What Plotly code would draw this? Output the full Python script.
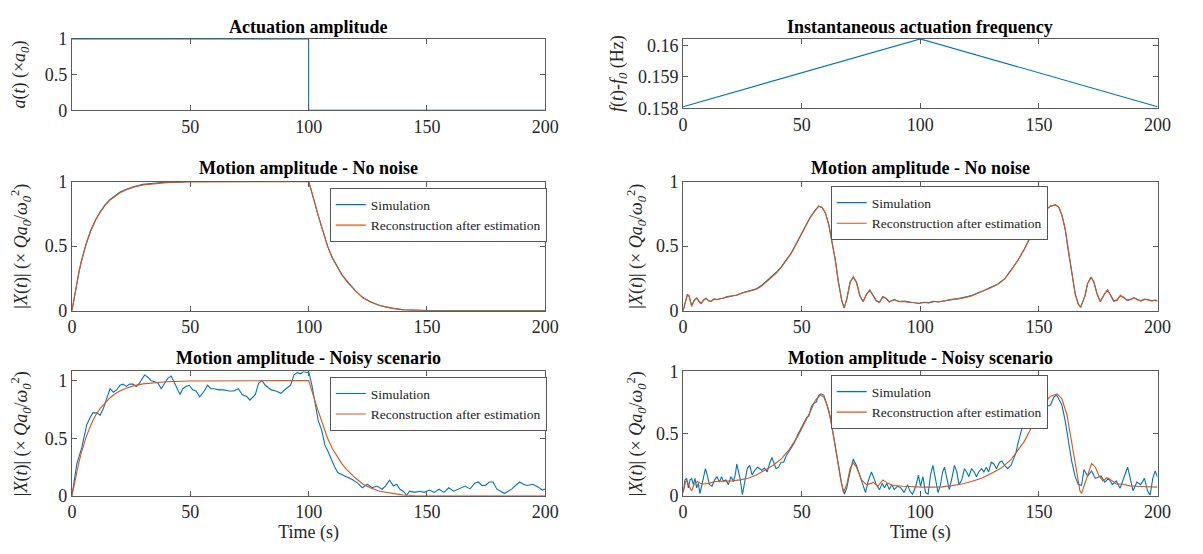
import plotly.graph_objects as go

# ---------------- data ----------------
# top-left: actuation amplitude
t_amp = [0, 100, 100, 200]
a_amp = [1, 1, 0, 0]

# top-right: instantaneous frequency
t_freq = [0, 100, 200]
f_freq = [0.15805, 0.16020, 0.15805]

# middle-left: no noise, constant frequency
t_nl = [0, 1, 2, 3, 4, 5, 6, 8, 10, 12, 14, 16, 18, 20, 23, 26, 30, 35, 40, 50, 60, 70, 80, 90, 100,
        101, 102, 104, 106, 108, 110, 112, 114, 116, 118, 120, 123, 126, 130, 135, 140, 145, 150,
        160, 170, 180, 190, 200]
sim_nl = [0, 0.11, 0.21, 0.305, 0.385, 0.455, 0.52, 0.625, 0.705, 0.768, 0.82, 0.86, 0.89, 0.915,
          0.94, 0.96, 0.978, 0.99, 0.997, 1.0, 1.0, 1.0, 1.0, 1.0, 1.0,
          0.94, 0.87, 0.74, 0.62, 0.5, 0.41, 0.34, 0.28, 0.235, 0.19, 0.15, 0.10, 0.07, 0.04, 0.02,
          0.008, 0.004, 0.002, 0.001, 0.002, 0.001, 0.002, 0.001]
rec_nl = [0, 0.11, 0.21, 0.30, 0.38, 0.45, 0.515, 0.62, 0.70, 0.764, 0.815, 0.855, 0.886, 0.91,
          0.937, 0.957, 0.973, 0.985, 0.992, 0.998, 0.999, 1, 1, 1, 1,
          0.94, 0.87, 0.74, 0.62, 0.5, 0.41, 0.34, 0.28, 0.23, 0.19, 0.15, 0.10, 0.07, 0.04, 0.02,
          0.007, 0.003, 0.001, 0, 0, 0, 0, 0]

# bottom-left: noisy, constant frequency
t_bl_sim = [0, 2.1, 4.2, 6.3, 7.7, 8.8, 10.5, 11.9, 13.3, 14.7, 16.1, 17.5, 18.9, 20.3, 21.6, 23,
            24.4, 25.8, 27.2, 28.6, 30, 30.7, 32.1, 33.5, 34.9, 36.3, 37.7, 39.1, 40.5, 41.9, 43.3,
            44.7, 45.7, 46.8, 48.2, 49.6, 51, 52.4, 54, 55.9, 57.3, 58.7, 60.1, 62.2, 64.2, 66.3,
            68.4, 70.3, 71.9, 74, 75.2, 76.1, 77.5, 78.9, 80.3, 81.7, 82.8, 84.2, 86.2, 88.3, 90.4,
            92.4, 93.8, 95.2, 96.6, 97.9, 99.3, 100, 101.4, 102.8, 104.1, 105.5, 106.9, 108.3,
            109.6, 111, 112.4, 114.5, 116.5, 118.6, 120.7, 122.7, 124.8, 126.9, 128.9, 131, 132.4,
            134.2, 135.8, 137.2, 138.6, 140, 141.3, 142.7, 144.8, 146.8, 148.9, 151, 153, 155.1,
            157.2, 159.2, 161.3, 163.4, 166.1, 168.2, 170.2, 171.7, 173.2, 174.7, 176.3, 177.9,
            179.5, 181.1, 182.7, 184.3, 185.9, 187.5, 189.1, 190.7, 192.3, 194.7, 197.1, 198.7, 200]
v_bl_sim = [0, 0.28, 0.42, 0.62, 0.68, 0.72, 0.72, 0.70, 0.76, 0.85, 0.93, 0.90, 0.92, 0.96, 0.97,
            0.95, 0.97, 0.97, 0.95, 0.98, 1.02, 1.05, 1.03, 1.00, 0.99, 0.98, 0.93, 0.98, 1.02, 1.04,
            0.98, 0.93, 0.88, 0.93, 0.95, 0.96, 0.92, 0.91, 0.86, 0.91, 0.96, 0.93, 0.93, 0.92, 0.92,
            0.91, 0.91, 0.93, 0.88, 0.86, 0.83, 0.85, 0.88, 0.98, 1.00, 0.96, 0.94, 0.92, 0.91, 0.89,
            0.93, 0.96, 1.05, 1.07, 1.06, 1.08, 1.07, 1.08, 0.96, 0.79, 0.65, 0.57, 0.44, 0.38, 0.31,
            0.25, 0.20, 0.18, 0.16, 0.14, 0.11, 0.07, 0.10, 0.07, 0.085, 0.057, 0.085, 0.136, 0.085,
            0.10, 0.057, 0.04, 0.005, 0.04, 0.03, 0.04, 0.03, 0.05, 0.03, 0.057, 0.03, 0.07, 0.04,
            0.06, 0.085, 0.06, 0.11, 0.12, 0.09, 0.09, 0.12, 0.12, 0.06, 0.04, 0.02, 0.04, 0.06,
            0.09, 0.12, 0.10, 0.09, 0.10, 0.075, 0.05, 0.06]
rec_bl = [0, 0.105, 0.205, 0.295, 0.375, 0.445, 0.51, 0.615, 0.70, 0.76, 0.81, 0.85, 0.882, 0.908,
          0.935, 0.955, 0.972, 0.984, 0.991, 0.997, 0.999, 1, 1, 1, 1,
          0.94, 0.87, 0.74, 0.62, 0.5, 0.41, 0.34, 0.28, 0.23, 0.19, 0.15, 0.10, 0.07, 0.04, 0.02,
          0.006, 0.002, 0.0, 0, 0, 0, 0, 0]

# middle-right: no noise, chirped frequency
t_mr = [0, 0.8, 1.8, 2.5, 3.6, 4.6, 5.7, 6.6, 7.6, 8.7, 9.7, 10.8, 11.9, 13, 14.3, 15.7, 17, 18.4,
        20.5, 22.6, 24.7, 26.7, 28.8, 30.9, 33, 35, 37.1, 39.2, 41.3, 43.4, 45.4, 47.5, 49.6, 51.7,
        53.7, 55.8, 57.2, 58.6, 60, 61.4, 62.7, 64.1, 65.5, 66.9, 67.9, 69, 70.4, 71.7, 73.1, 74.5,
        75.9, 77.3, 78.7, 80.1, 81.4, 82.8, 84.2, 85.5, 86.9, 89, 91.1, 93.2, 95.3, 97.4, 99.4,
        101.5, 103.6, 105.7, 107.7, 110.5, 113.3, 116.1, 118.8, 121.6, 124.4, 127.1, 129.9, 132.7,
        135.5, 138.2, 141, 143.8, 146.6, 149.3, 152.1, 154.9, 157, 158.4, 159.7, 161.1, 162.5,
        163.9, 165.3, 166.6, 167.6, 169.4, 170.5, 172, 173.2, 174.5, 175.9, 177.3, 178.9, 180.2,
        181.5, 182.9, 184.4, 185.8, 187.2, 188.8, 190, 191.5, 193, 194.5, 196, 197.5, 199, 200]
rec_mr = [0, 0.064, 0.125, 0.115, 0.035, 0.077, 0.10, 0.075, 0.055, 0.085, 0.095, 0.075, 0.072,
          0.09, 0.085, 0.095, 0.097, 0.11, 0.115, 0.12, 0.136, 0.146, 0.154, 0.167, 0.19, 0.22,
          0.256, 0.29, 0.333, 0.385, 0.44, 0.51, 0.58, 0.654, 0.726, 0.78, 0.81, 0.80, 0.756,
          0.667, 0.55, 0.40, 0.22, 0.077, 0.02, 0.09, 0.22, 0.26, 0.22, 0.115, 0.07, 0.128, 0.158,
          0.12, 0.077, 0.064, 0.11, 0.095, 0.07, 0.085, 0.07, 0.072, 0.064, 0.064, 0.056, 0.064,
          0.06, 0.07, 0.07, 0.077, 0.085, 0.09, 0.10, 0.115, 0.136, 0.154, 0.18, 0.205, 0.244,
          0.31, 0.385, 0.474, 0.577, 0.68, 0.77, 0.81, 0.82, 0.80, 0.74, 0.63, 0.45, 0.27, 0.13,
          0.05, 0.026, 0.115, 0.21, 0.26, 0.22, 0.13, 0.07, 0.12, 0.16, 0.12, 0.075, 0.08, 0.12,
          0.10, 0.08, 0.09, 0.10, 0.085, 0.075, 0.09, 0.085, 0.075, 0.08, 0.075]
sim_mr = [0, 0.066, 0.127, 0.113, 0.037, 0.079, 0.098, 0.077, 0.057, 0.083, 0.097, 0.077, 0.074,
          0.092, 0.087, 0.093, 0.099, 0.108, 0.117, 0.122, 0.138, 0.148, 0.158, 0.171, 0.195, 0.226,
          0.262, 0.296, 0.338, 0.388, 0.442, 0.512, 0.582, 0.655, 0.727, 0.781, 0.81, 0.80, 0.756,
          0.667, 0.55, 0.40, 0.22, 0.077, 0.022, 0.09, 0.22, 0.262, 0.22, 0.117, 0.072, 0.126,
          0.16, 0.118, 0.079, 0.066, 0.108, 0.097, 0.068, 0.087, 0.072, 0.074, 0.066, 0.062, 0.058,
          0.066, 0.063, 0.073, 0.068, 0.08, 0.088, 0.094, 0.104, 0.118, 0.14, 0.158, 0.183, 0.208,
          0.246, 0.312, 0.387, 0.476, 0.579, 0.681, 0.77, 0.81, 0.82, 0.80, 0.74, 0.63, 0.45, 0.27,
          0.13, 0.052, 0.028, 0.113, 0.21, 0.262, 0.222, 0.132, 0.072, 0.118, 0.162, 0.122, 0.077,
          0.082, 0.118, 0.102, 0.082, 0.088, 0.102, 0.087, 0.077, 0.088, 0.087, 0.077, 0.082, 0.077]

# bottom-right: noisy, chirped frequency
t_br_rec = [0, 1.1, 1.6, 2.2, 3.2, 3.6, 4.6, 6, 7.3, 8.7, 10.8, 13.6, 17, 20.5, 24, 27.4, 30.9,
            34.3, 37.8, 41.3, 44.7, 48.2, 51, 53.7, 55.8, 57.9, 59.3, 60.7, 62, 63.4, 64.8, 66.2,
            67.6, 69, 70.4, 71.7, 73.1, 75.2, 77.3, 79.4, 80.1, 82.1, 84.2, 86.3, 88.3, 92.5, 96.7,
            100.8, 105, 109.2, 113.3, 117.5, 121.6, 125.8, 129.9, 134.1, 138.2, 141, 143.8, 146.6,
            149.3, 152.1, 154.9, 157.7, 159.7, 161.8, 163.9, 165.9, 167.3, 168, 169.4, 170.6,
            172.2, 173.8, 175.4, 177, 178.6, 180.2, 182.6, 185, 188.2, 192.9, 199.4, 200]
v_br_rec = [0.026, 0.115, 0.12, 0.09, 0.05, 0.04, 0.09, 0.115, 0.10, 0.095, 0.10, 0.115, 0.115,
            0.12, 0.128, 0.141, 0.167, 0.205, 0.244, 0.295, 0.372, 0.474, 0.577, 0.68, 0.77, 0.81,
            0.795, 0.73, 0.63, 0.487, 0.32, 0.154, 0.026, 0.09, 0.22, 0.265, 0.23, 0.128, 0.09,
            0.10, 0.11, 0.077, 0.128, 0.10, 0.085, 0.077, 0.072, 0.07, 0.07, 0.072, 0.082, 0.095,
            0.115, 0.141, 0.18, 0.223, 0.29, 0.36, 0.436, 0.54, 0.654, 0.744, 0.80, 0.82, 0.78,
            0.654, 0.423, 0.19, 0.04, 0.02, 0.10, 0.18, 0.26, 0.23, 0.16, 0.12, 0.145, 0.13, 0.095,
            0.095, 0.08, 0.075, 0.07, 0.07]
t_br_sim = [0, 0.8, 1.5, 2.2, 2.9, 3.6, 4.3, 5, 5.7, 6.4, 7.1, 7.8, 8.7, 9.4, 10.2, 11.1, 12.2,
            13.3, 14.3, 15.3, 16.2, 17, 18, 19.1, 20.2, 21.2, 22.1, 22.6, 24, 25, 26, 27.1, 28.1,
            29.1, 30.2, 31.3, 32.3, 33.2, 34.3, 35.5, 36.4, 37.4, 38.2, 39.2, 40.2, 41.3, 42.4,
            43.4, 44.3, 45.4, 46.8, 48.2, 49.6, 51, 52.1, 53, 54.1, 55.1, 56.2, 57.2, 58.1, 59.3,
            60.3, 61.5, 62.7, 64.1, 65.5, 66.9, 68, 69, 70.4, 71.7, 73.1, 74.5, 75.9, 76.9, 78,
            79.4, 80.7, 81.4, 82.8, 83.9, 84.9, 85.9, 86.9, 88, 89, 90.4, 91.8, 93.2, 94.6, 95.6,
            96.7, 98.1, 99.2, 100.1, 101.1, 102.2, 103.3, 104.3, 105.3, 106.4, 107.5, 108.4, 109.4,
            110.2, 111.2, 112.2, 113.3, 114.4, 115.4, 116.3, 117.5, 118.6, 119.5, 120.5, 121.6,
            122.7, 123.7, 124.6, 125.8, 126.8, 127.8, 128.8, 129.9, 131, 132.1, 133.4, 134.4,
            135.5, 136.8, 138.2, 139.3, 140.3, 141.2, 142.3, 143.4, 144.4, 145.4, 146.6, 148,
            149.3, 150.7, 152.1, 153.5, 154.9, 156.3, 157.4, 158.3, 159.7, 161.1, 162.5, 163.9,
            165.3, 166.6, 168, 169, 170.6, 172.2, 173.8, 176.2, 177.8, 179.4, 181, 182.6, 184.2,
            185.8, 187.4, 188.5, 189.7, 191.3, 192.9, 194.5, 195.8, 196.9, 198, 199, 200]
v_br_sim = [0.026, 0.128, 0.14, 0.064, 0.128, 0.14, 0.09, 0.14, 0.064, 0.10, 0.018, 0.077, 0.167,
            0.218, 0.167, 0.09, 0.077, 0.128, 0.154, 0.11, 0.154, 0.115, 0.128, 0.09, 0.154, 0.115,
            0.18, 0.256, 0.141, 0.01, 0.115, 0.223, 0.244, 0.167, 0.205, 0.23, 0.218, 0.205, 0.223,
            0.192, 0.256, 0.308, 0.27, 0.218, 0.23, 0.27, 0.27, 0.32, 0.346, 0.385, 0.423, 0.487,
            0.54, 0.60, 0.63, 0.64, 0.72, 0.744, 0.756, 0.81, 0.82, 0.81, 0.756, 0.68, 0.564, 0.397,
            0.244, 0.09, 0.013, 0.064, 0.192, 0.295, 0.244, 0.167, 0.09, 0.026, 0.115, 0.192, 0.128,
            0.09, 0.05, 0.10, 0.064, 0.10, 0.05, 0.09, 0.05, 0.077, 0.064, 0.026, 0.09, 0.038,
            0.013, 0.077, 0.167, 0.077, 0.154, 0.026, 0.013, 0.167, 0.244, 0.141, 0.026, 0.077,
            0.192, 0.23, 0.141, 0.05, 0.141, 0.244, 0.192, 0.09, 0.128, 0.218, 0.192, 0.154, 0.218,
            0.192, 0.154, 0.192, 0.218, 0.192, 0.23, 0.192, 0.27, 0.256, 0.218, 0.27, 0.28, 0.244,
            0.218, 0.244, 0.295, 0.346, 0.423, 0.50, 0.59, 0.654, 0.70, 0.744, 0.73, 0.69, 0.72,
            0.69, 0.72, 0.73, 0.795, 0.81, 0.78, 0.73, 0.60, 0.423, 0.27, 0.154, 0.09, 0.085, 0.21,
            0.16, 0.20, 0.14, 0.16, 0.11, 0.14, 0.09, 0.12, 0.06, 0.14, 0.23, 0.14, 0.04, 0.11,
            0.09, 0.14, 0.04, 0.005, 0.14, 0.2, 0.15]

x_ticks = [0, 50, 100, 150, 200]
x_ticks_top_left = [50, 100, 150, 200]
y_ticks = [0, 0.5, 1]
y_ticks_freq = [0.158, 0.159, 0.160]
y_ticktext_freq = ["0.158", "0.159", "0.16"]

# ---------------- styling ----------------
W, H = 1203, 554
BLUE = "#0072BD"
ORANGE = "#D95319"
FONT = "Liberation Serif"
AX = "#5a5a5a"

def px_x(a, b):
    return [a / W, b / W]

def px_y(top, bottom):
    return [1 - bottom / H, 1 - top / H]

LX = px_x(68, 549)
RX = px_x(689, 1171)

fig = go.Figure()

def line(x, y, color, name=None, xa="x", ya="y", legend=None, show=False):
    fig.add_trace(go.Scatter(x=x, y=y, mode="lines", line=dict(color=color, width=1.1),
                             name=name, xaxis=xa, yaxis=ya, showlegend=show,
                             legend=legend, hoverinfo="skip"))

# panel 1 top-left
line(t_amp, a_amp, BLUE, xa="x", ya="y")
# panel 2 top-right
line(t_freq, f_freq, BLUE, xa="x2", ya="y2")
# panel 3 middle-left
line(t_nl, sim_nl, BLUE, "Simulation", "x3", "y3", "legend", True)
line(t_nl, rec_nl, ORANGE, "Reconstruction after estimation", "x3", "y3", "legend", True)
# panel 4 middle-right
line(t_mr, sim_mr, BLUE, "Simulation", "x4", "y4", "legend2", True)
line(t_mr, rec_mr, ORANGE, "Reconstruction after estimation", "x4", "y4", "legend2", True)
# panel 5 bottom-left
line(t_bl_sim, v_bl_sim, BLUE, "Simulation", "x5", "y5", "legend3", True)
line(t_nl, rec_bl, ORANGE, "Reconstruction after estimation", "x5", "y5", "legend3", True)
# panel 6 bottom-right
line(t_br_sim, v_br_sim, BLUE, "Simulation", "x6", "y6", "legend4", True)
line(t_br_rec, v_br_rec, ORANGE, "Reconstruction after estimation", "x6", "y6", "legend4", True)

tickfont = dict(family=FONT, size=18, color="#262626")
common = dict(showline=True, linecolor=AX, linewidth=1, mirror="ticks", ticks="inside",
              ticklen=5, tickcolor=AX, showgrid=False, zeroline=False, tickfont=tickfont)

ylab_amp = "<i>a</i>(<i>t</i>) (×<i>a</i><sub><i>0</i></sub>)"
ylab_f = "<i>f</i>(<i>t</i>)-<i>f</i><sub><i>0</i></sub> (Hz)"
ylab_x = "|<i>X</i>(<i>t</i>)| (× <i>Qa</i><sub><i>0</i></sub>/<i>ω</i><sub><i>0</i></sub><sup>2</sup>)"
ytitle_font = dict(family=FONT, size=18, color="#262626")

rows = {"top": px_y(30, 104), "topr": px_y(30, 102), "mid": px_y(178, 312), "bot": px_y(375, 504)}

def xa(dom, anchor, ticks, title=None):
    d = dict(domain=dom, anchor=anchor, range=[0, 200], tickvals=ticks, **common)
    if title:
        d["title"] = dict(text=title, font=ytitle_font, standoff=2)
    return d

def ya(dom, anchor, rng, ticks, title, ticktext=None, standoff=8):
    d = dict(domain=dom, anchor=anchor, range=rng, tickvals=ticks,
             title=dict(text=title, font=ytitle_font, standoff=standoff), **common)
    if ticktext:
        d["ticktext"] = ticktext
    return d

fig.update_layout(
    width=W, height=H, margin=dict(l=0, r=0, t=0, b=0),
    paper_bgcolor="white", plot_bgcolor="white",
    font=dict(family=FONT, size=18, color="#262626"),
    xaxis=xa(LX, "y", x_ticks_top_left),
    yaxis=ya(rows["top"], "x", [0, 1], y_ticks, ylab_amp, None, 14),
    xaxis2=xa(RX, "y2", x_ticks),
    yaxis2=ya(rows["topr"], "x2", [0.158, 0.1602], y_ticks_freq, ylab_f, y_ticktext_freq, 9),
    xaxis3=xa(LX, "y3", x_ticks),
    yaxis3=ya(rows["mid"], "x3", [0, 1], y_ticks, ylab_x, None, 12),
    xaxis4=xa(RX, "y4", x_ticks),
    yaxis4=ya(rows["mid"], "x4", [0, 1], y_ticks, ylab_x, None, 8),
    xaxis5=xa(LX, "y5", x_ticks, "Time (s)"),
    yaxis5=ya(rows["bot"], "x5", [0, 1.08], y_ticks, ylab_x, None, 12),
    xaxis6=xa(RX, "y6", x_ticks, "Time (s)"),
    yaxis6=ya(rows["bot"], "x6", [0, 1], y_ticks, ylab_x, None, 8),
)

leg_common = dict(xanchor="left", yanchor="top", bgcolor="white", bordercolor="#555",
                  borderwidth=1, font=dict(family=FONT, size=13.5, color="#222"),
                  tracegroupgap=0, itemclick=False, itemdoubleclick=False)
fig.update_layout(
    legend=dict(x=330 / W, y=1 - 185 / H, **leg_common),
    legend2=dict(x=839 / W, y=1 - 183 / H, **leg_common),
    legend3=dict(x=330 / W, y=1 - 381 / H, **leg_common),
    legend4=dict(x=839 / W, y=1 - 379 / H, **leg_common),
)

titles = [("Actuation amplitude", (68 + 549) / 2, 18),
          ("Instantaneous actuation frequency", (689 + 1171) / 2, 18),
          ("Motion amplitude - No noise", (68 + 549) / 2, 164),
          ("Motion amplitude - No noise", (689 + 1171) / 2, 164),
          ("Motion amplitude - Noisy scenario", (68 + 549) / 2, 361),
          ("Motion amplitude - Noisy scenario", (689 + 1171) / 2, 361)]
for text, cx, cy in titles:
    fig.add_annotation(text="<b>" + text + "</b>", x=cx / W, y=1 - cy / H, xref="paper",
                       yref="paper", showarrow=False, xanchor="center", yanchor="middle",
                       font=dict(family=FONT, size=18, color="black"))

fig.write_html("out.html")
